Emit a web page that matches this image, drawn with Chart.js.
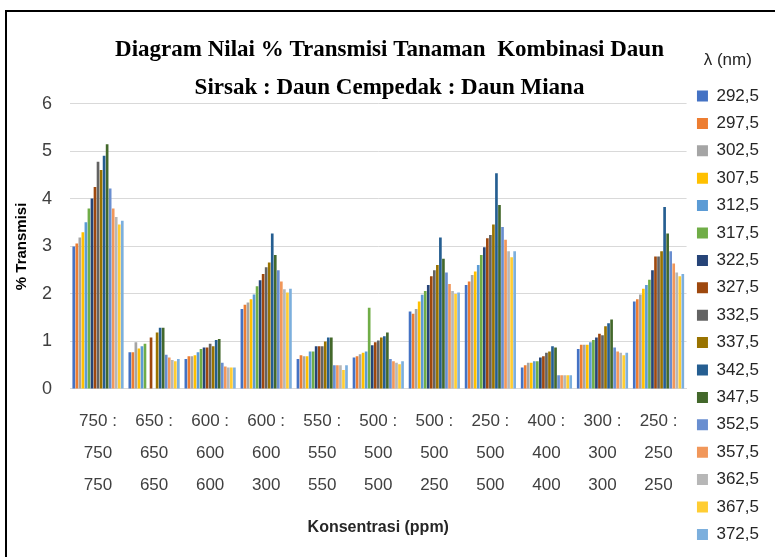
<!DOCTYPE html>
<html>
<head>
<meta charset="utf-8">
<script src="https://cdn.jsdelivr.net/npm/chart.js@4"></script>
<style>
  html, body { margin: 0; padding: 0; background: #fff; overflow: hidden; }
  #wrap { position: relative; width: 775px; height: 557px; }
  #frame { position: absolute; left: 5px; top: 10px; width: 800px; height: 600px; border: 2px solid #000; box-sizing: border-box; pointer-events: none; }
</style>
</head>
<body>
<div id="wrap">
  <canvas id="transChart"></canvas>
  <div id="frame"></div>
</div>
<script>
// categories: Sirsak : Cempedak : Miana (ppm)
const categories = [
  ['750 :', '750', '750'],
  ['650 :', '650', '650'],
  ['600 :', '600', '600'],
  ['600 :', '600', '300'],
  ['550 :', '550', '550'],
  ['500 :', '500', '500'],
  ['500 :', '500', '250'],
  ['250 :', '500', '500'],
  ['400 :', '400', '400'],
  ['300 :', '300', '300'],
  ['250 :', '250', '250']
];

const wavelengths = ['292,5', '297,5', '302,5', '307,5', '312,5', '317,5', '322,5', '327,5', '332,5',
  '337,5', '342,5', '347,5', '352,5', '357,5', '362,5', '367,5', '372,5'];

// % transmisi per wavelength, one value per category
const nm292_5 = [3.00, 0.77, 0.63, 1.68, 0.63, 0.66, 1.63, 2.19, 0.45, 0.84, 1.84];
const nm297_5 = [3.06, 0.77, 0.69, 1.77, 0.71, 0.69, 1.58, 2.26, 0.50, 0.93, 1.89];
const nm302_5 = [3.19, 0.98, 0.69, 1.82, 0.69, 0.73, 1.68, 2.40, 0.55, 0.93, 1.99];
const nm307_5 = [3.30, 0.85, 0.71, 1.89, 0.69, 0.76, 1.84, 2.47, 0.55, 0.93, 2.11];
const nm312_5 = [3.51, 0.90, 0.77, 1.99, 0.79, 0.79, 1.98, 2.61, 0.58, 0.98, 2.19];
const nm317_5 = [3.80, 0.95, 0.84, 2.16, 0.79, 1.71, 2.06, 2.82, 0.58, 1.03, 2.30];
const nm322_5 = [4.01, null, 0.87, 2.29, 0.90, 0.92, 2.19, 2.98, 0.66, 1.08, 2.50];
const nm327_5 = [4.25, 1.08, 0.87, 2.42, 0.90, 0.98, 2.37, 3.17, 0.69, 1.16, 2.79];
const nm332_5 = [4.78, null, 0.95, 2.56, 0.90, 1.02, 2.50, 3.24, 0.76, 1.13, 2.79];
const nm337_5 = [4.61, 1.19, 0.90, 2.66, 1.00, 1.08, 2.61, 3.46, 0.79, 1.32, 2.90];
const nm342_5 = [4.91, 1.29, 1.03, 3.27, 1.08, 1.11, 3.19, 4.54, 0.90, 1.38, 3.83];
const nm347_5 = [5.15, 1.29, 1.05, 2.82, 1.08, 1.19, 2.74, 3.87, 0.87, 1.46, 3.27];
const nm352_5 = [4.22, 0.72, 0.55, 2.50, 0.50, 0.63, 2.45, 3.41, 0.29, 0.87, 2.90];
const nm357_5 = [3.80, 0.66, 0.47, 2.26, 0.50, 0.58, 2.21, 3.14, 0.29, 0.79, 2.64];
const nm362_5 = [3.62, 0.61, 0.45, 2.10, 0.50, 0.55, 2.06, 2.90, 0.29, 0.76, 2.45];
const nm367_5 = [3.46, 0.58, 0.45, 2.03, 0.40, 0.52, 2.00, 2.77, 0.29, 0.71, 2.37];
const nm372_5 = [3.54, 0.63, 0.45, 2.11, 0.50, 0.58, 2.03, 2.90, 0.29, 0.76, 2.42];

const seriesValues = [nm292_5, nm297_5, nm302_5, nm307_5, nm312_5, nm317_5, nm322_5, nm327_5, nm332_5,
  nm337_5, nm342_5, nm347_5, nm352_5, nm357_5, nm362_5, nm367_5, nm372_5];

const yTicks = [0, 1, 2, 3, 4, 5, 6];

// Excel office palette
const colors = ['#4472C4', '#ED7D31', '#A5A5A5', '#FFC000', '#5B9BD5', '#70AD47', '#264478', '#9E480E', '#636363',
  '#997300', '#255E91', '#43682B', '#698ED0', '#F1975A', '#B7B7B7', '#FFCD33', '#7CAFDD'];

const sans = "'Liberation Sans', sans-serif";

const ctx = document.getElementById('transChart').getContext('2d');

const data = {
  labels: categories,
  datasets: seriesValues.map((vals, i) => ({
    label: wavelengths[i],
    data: vals,
    backgroundColor: colors[i],
    borderWidth: 0,
    barPercentage: 0.88,
    categoryPercentage: 0.92
  }))
};

const config = {
  type: 'bar',
  data: data,
  options: {
    responsive: true,
    maintainAspectRatio: false,
    devicePixelRatio: 1,
    animation: false,
    layout: { padding: { left: 10, right: 6, top: 12, bottom: 0 } },
    scales: {
      x: {
        grid: { display: false, drawTicks: false },
        border: { display: true, color: '#d9d9d9' },
        ticks: {
          autoSkip: false,
          maxRotation: 0,
          padding: 16,
          color: '#404040',
          font: { family: sans, size: 17, lineHeight: 1.88 }
        },
        title: {
          display: true,
          text: 'Konsentrasi (ppm)',
          color: '#262626',
          font: { family: sans, size: 16, weight: 'bold' },
          padding: { top: 1, bottom: 20 }
        }
      },
      y: {
        min: 0,
        max: 6,
        afterBuildTicks: (axis) => { axis.ticks = yTicks.map(v => ({ value: v })); },
        afterFit: (axis) => { axis.width = 60; },
        grid: { color: '#d9d9d9', drawTicks: false },
        border: { display: false },
        ticks: {
          padding: 18,
          color: '#404040',
          font: { family: sans, size: 18 }
        },
        title: {
          display: true,
          text: '% Transmisi',
          color: '#000',
          font: { family: sans, size: 15, weight: 'bold' },
          padding: { top: 3, bottom: 0 }
        }
      }
    },
    plugins: {
      title: {
        display: true,
        fullSize: true,
        text: ['Diagram Nilai % Transmisi Tanaman  Kombinasi Daun', 'Sirsak : Daun Cempedak : Daun Miana'],
        color: '#000',
        font: { family: "'Liberation Serif', serif", size: 23, weight: 'bold', lineHeight: 1.65 },
        padding: { top: 19, bottom: -3 }
      },
      legend: {
        display: true,
        position: 'right',
        align: 'start',
        title: {
          display: true,
          text: 'λ (nm)',
          color: '#262626',
          font: { family: sans, size: 17 },
          padding: { top: 39.5, bottom: 5.2 }
        },
        labels: {
          boxWidth: 11,
          boxHeight: 11,
          padding: 10.4,
          color: '#262626',
          font: { family: sans, size: 17 }
        }
      },
      tooltip: { enabled: false }
    }
  }
};

new Chart(ctx, config);
</script>
</body>
</html>
